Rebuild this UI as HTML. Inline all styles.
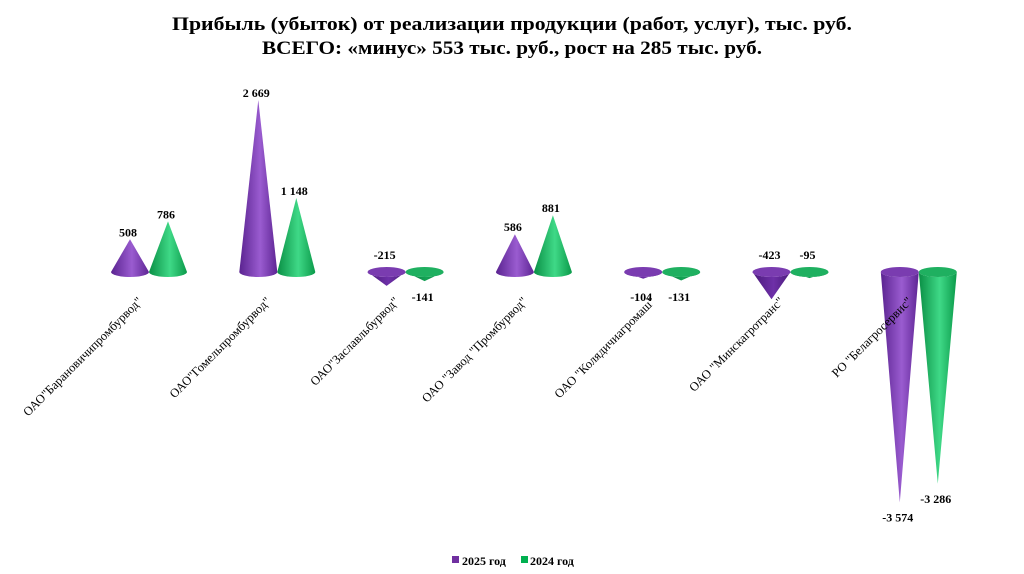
<!DOCTYPE html>
<html><head><meta charset="utf-8">
<style>
html,body{margin:0;padding:0;background:#fff;}
svg{display:block;font-family:"Liberation Serif","Noto Serif CJK SC",serif;}
</style></head>
<body>
<svg id="chart" width="1024" height="574" viewBox="0 0 1024 574">
<defs>
<linearGradient id="gp" x1="0" x2="1" y1="0" y2="0">
<stop offset="0" stop-color="#5a2390"/><stop offset="0.55" stop-color="#9a5cd0"/><stop offset="1" stop-color="#5e2594"/>
</linearGradient>
<linearGradient id="gg" x1="0" x2="1" y1="0" y2="0">
<stop offset="0" stop-color="#0a8f45"/><stop offset="0.55" stop-color="#3fd987"/><stop offset="1" stop-color="#0b9a4a"/>
</linearGradient>
<linearGradient id="gpd" x1="0" x2="1" y1="0" y2="0">
<stop offset="0" stop-color="#4a1a7a"/><stop offset="0.55" stop-color="#6e30a8"/><stop offset="1" stop-color="#4a1a7a"/>
</linearGradient>
<linearGradient id="ggd" x1="0" x2="1" y1="0" y2="0">
<stop offset="0" stop-color="#07703a"/><stop offset="0.55" stop-color="#14a455"/><stop offset="1" stop-color="#07703a"/>
</linearGradient>
</defs>
<text x="512" y="30" text-anchor="middle" font-size="19" font-weight="bold" textLength="680" lengthAdjust="spacingAndGlyphs">Прибыль (убыток) от реализации продукции (работ, услуг), тыс. руб.</text>
<text x="512" y="54" text-anchor="middle" font-size="19" font-weight="bold" textLength="500" lengthAdjust="spacingAndGlyphs">ВСЕГО: «минус» 553 тыс. руб., рост на 285 тыс. руб.</text>
<g id="plot"></g>
<g>
<rect x="452" y="556" width="7" height="7" fill="#7030a0"/>
<text x="462" y="565" font-size="12" font-weight="bold">2025 год</text>
<rect x="521" y="556" width="7" height="7" fill="#00b050"/>
<text x="530" y="565" font-size="12" font-weight="bold">2024 год</text>
</g>
</svg>
<script>
const categories = ['ОАО"Барановичипромбурвод"','ОАО"Гомельпромбурвод"','ОАО"Заславльбурвод"','ОАО "Завод "Промбурвод"','ОАО "Колядичиагромаш"','ОАО "Минскагротранс"','РО "Белагросервис"'];
const values2025 = [508, 2669, -215, 586, -104, -423, -3574];
const values2024 = [786, 1148, -141, 881, -131, -95, -3286];
const labels2025 = ['508','2 669','-215','586','-104','-423','-3 574'];
const labels2024 = ['786','1 148','-141','881','-131','-95','-3 286'];
const labelAbove2025 = [true,true,true,true,false,true,false];
const labelAbove2024 = [true,true,false,true,false,true,false];

const NS='http://www.w3.org/2000/svg';
const plot=document.getElementById('plot');
const base=272, scale=172/2669;
function yv(v){return base - v*scale;}
function xc(i){return 149 + 128.3*i;}
const W=38, RY=5;
function mk(tag,attrs){const e=document.createElementNS(NS,tag);for(const k in attrs)e.setAttribute(k,attrs[k]);plot.appendChild(e);return e;}
function cone(cx,v,fill,negFill,dark,name,label,above){
  const tip=yv(v);
  const l=cx-W/2, r=cx+W/2;
  const small = v<0 && Math.abs(v)<1000;
  const p=mk('path',{d:`M${l},${base} L${cx},${tip} L${r},${base} A${W/2},${RY} 0 0 1 ${l},${base} Z`,fill:small?negFill:fill});
  
  
  if(v<0){
    const e=mk('ellipse',{cx:cx,cy:base,rx:W/2,ry:RY,fill:dark});
    
    
  }
  let ty;
  if(above){ ty = v>=0 ? tip-3 : base-13; }
  else { ty = Math.max(tip+19, base+29); }
  const t=mk('text',{x:cx-2,y:ty,'text-anchor':'middle','font-size':12,'font-weight':'bold'});
  t.textContent=label;
  
  
}
categories.forEach((c,i)=>{
  const cx=xc(i);
  cone(cx-19, values2025[i], 'url(#gp)', 'url(#gpd)', '#7a3cb0', 'cone-2025-'+(i+1), labels2025[i], labelAbove2025[i]);
  cone(cx+19, values2024[i], 'url(#gg)', 'url(#ggd)', '#1fb060', 'cone-2024-'+(i+1), labels2024[i], labelAbove2024[i]);
  const ax=cx-6, ay=302;
  const t=mk('text',{x:ax,y:ay,'text-anchor':'end','font-size':12.5,transform:`rotate(-45 ${ax} ${ay})`});
  t.textContent=c;
  
  
});
</script>
</body></html>
